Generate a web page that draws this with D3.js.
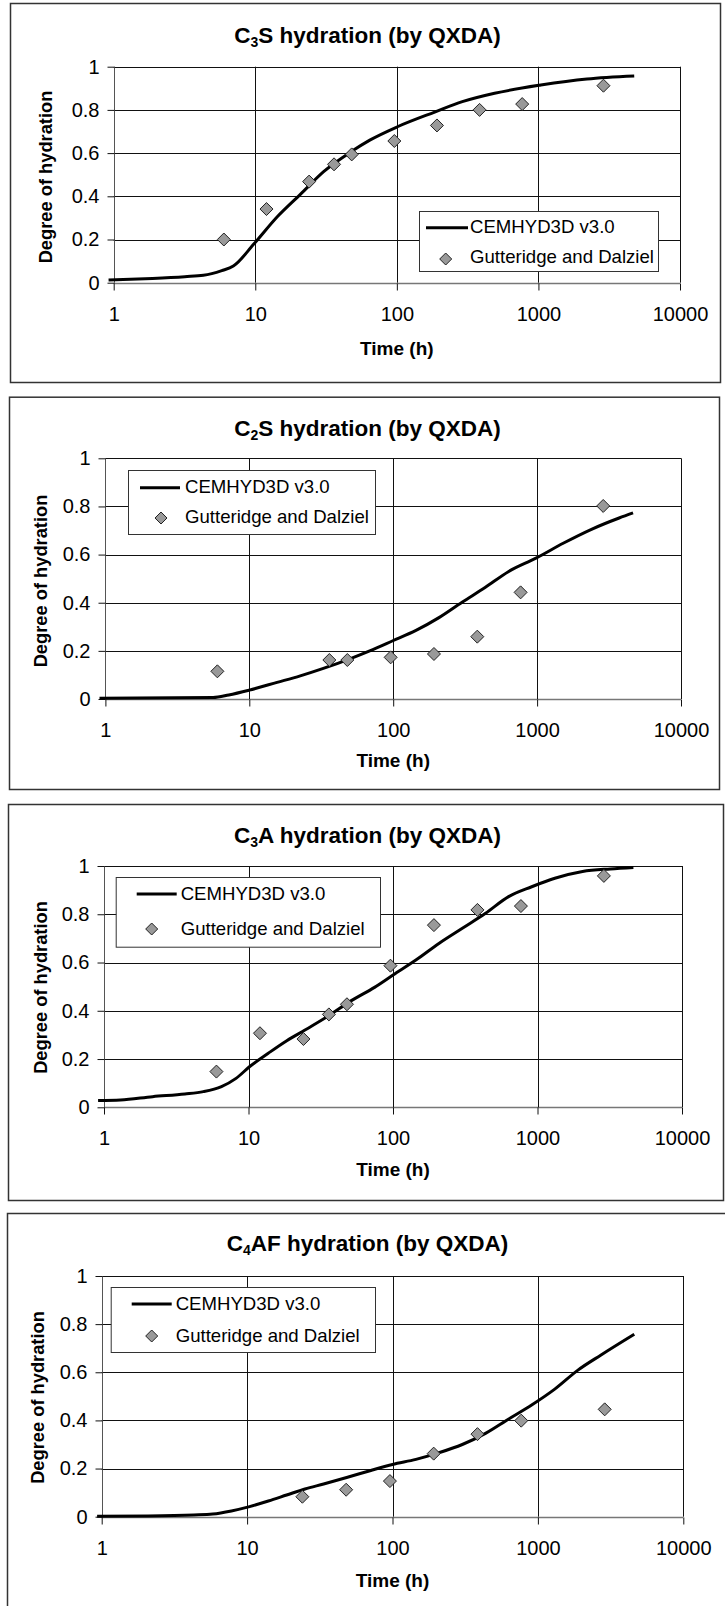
<!DOCTYPE html>
<html><head><meta charset="utf-8">
<script src="https://cdn.jsdelivr.net/npm/d3@7"></script>
<style>
html,body{margin:0;padding:0;background:#fff;}
svg{display:block;font-family:"Liberation Sans",Arial,sans-serif;}
</style></head>
<body>
<svg id="chart" width="725" height="1606"></svg>
<script>
// ---------- data ----------
const timeTicks = [1, 10, 100, 1000, 10000];
const yTicks = [0, 0.2, 0.4, 0.6, 0.8, 1];
const seriesNames = ["CEMHYD3D v3.0", "Gutteridge and Dalziel"];
const titles = [["C", "3", "S hydration (by QXDA)"], ["C", "2", "S hydration (by QXDA)"], ["C", "3", "A hydration (by QXDA)"], ["C", "4", "AF hydration (by QXDA)"]];
const xLabel = "Time (h)";
const yLabel = "Degree of hydration";

// C3S
const c3sModelT = [0.92, 1.88, 3.18, 4.3, 5.8, 7.0, 9.8, 14.3, 20.9, 30.4, 47.7, 64.4, 101, 185, 290, 490, 1040, 2200, 4750];
const c3sModelY = [0.012, 0.02, 0.028, 0.034, 0.056, 0.077, 0.18, 0.305, 0.41, 0.514, 0.607, 0.66, 0.722, 0.79, 0.838, 0.877, 0.915, 0.943, 0.957];
const c3sExpT = [6, 12, 24, 36, 48, 96, 192, 384, 768, 2880];
const c3sExpY = [0.20, 0.341, 0.468, 0.548, 0.594, 0.656, 0.728, 0.80, 0.827, 0.912];
// C2S
const c2sModelT = [0.91, 5.6, 7.2, 10, 15.6, 22.6, 32.7, 51, 68.7, 99.3, 144, 208, 301, 435, 631, 982, 1530, 2387, 3717, 4642];
const c2sModelY = [0.003, 0.006, 0.017, 0.037, 0.069, 0.096, 0.127, 0.169, 0.2, 0.242, 0.285, 0.338, 0.402, 0.463, 0.529, 0.585, 0.648, 0.705, 0.752, 0.773];
const c2sExpT = [6, 36, 48, 96, 192, 384, 768, 2880];
const c2sExpY = [0.115, 0.162, 0.162, 0.173, 0.187, 0.259, 0.443, 0.802];
// C3A
const c3aModelT = [0.91, 1.3, 2.17, 3.63, 4.87, 6.5, 8.2, 10.2, 13.7, 18.4, 24.6, 35.6, 51.5, 74.5, 100, 144, 209, 302, 437, 631, 912, 1318, 2050, 3190, 4610];
const c3aModelY = [0.028, 0.030, 0.044, 0.055, 0.065, 0.086, 0.12, 0.169, 0.224, 0.276, 0.32, 0.378, 0.442, 0.497, 0.548, 0.61, 0.68, 0.742, 0.804, 0.873, 0.914, 0.949, 0.977, 0.988, 0.994];
const c3aExpT = [6, 12, 24, 36, 48, 96, 192, 384, 768, 2880];
const c3aExpY = [0.148, 0.307, 0.283, 0.385, 0.427, 0.587, 0.755, 0.818, 0.834, 0.959];
// C4AF
const c4afModelT = [0.93, 2.08, 4.3, 5.8, 7.8, 10.4, 14, 18.7, 25, 33.6, 48.4, 70, 100, 145, 209, 302, 436, 630, 906, 1306, 1885, 2718, 4600];
const c4afModelY = [0.002, 0.003, 0.007, 0.011, 0.024, 0.042, 0.065, 0.09, 0.115, 0.136, 0.163, 0.191, 0.217, 0.238, 0.266, 0.30, 0.346, 0.406, 0.464, 0.53, 0.609, 0.672, 0.758];
const c4afExpT = [24, 48, 96, 192, 384, 768, 2880];
const c4afExpY = [0.083, 0.112, 0.148, 0.262, 0.343, 0.399, 0.446];

// ---------- layout (per panel) ----------
const panels = [
  {title: titles[0], mT: c3sModelT, mY: c3sModelY, eT: c3sExpT, eY: c3sExpY,
   box: [10, 3, 720, 382], plot: [113.7, 66.7, 680, 282.7], titleY: 42.5, xLabY: 355, yLab: [46, 177],
   leg: [419, 211, 658, 271], legLine: [7, 49, 16.7], legDia: [26.7, 48], legText: 51, legBase: [21.5, 52]},
  {title: titles[1], mT: c2sModelT, mY: c2sModelY, eT: c2sExpT, eY: c2sExpY,
   box: [9, 396.7, 719, 789], plot: [105.4, 458.3, 681, 699], titleY: 436, xLabY: 767, yLab: [40.7, 581],
   leg: [128, 470, 375, 534], legLine: [12, 52, 17.7], legDia: [33, 48], legText: 57, legBase: [22.5, 53]},
  {title: titles[2], mT: c3aModelT, mY: c3aModelY, eT: c3aExpT, eY: c3aExpY,
   box: [8, 804, 723, 1200], plot: [104, 866, 682, 1107.3], titleY: 842.5, xLabY: 1176, yLab: [40.7, 987.5],
   leg: [115.7, 877, 380, 946.7], legLine: [21, 61, 17], legDia: [36, 52], legText: 65, legBase: [22.5, 57.5]},
  {title: titles[3], mT: c4afModelT, mY: c4afModelY, eT: c4afExpT, eY: c4afExpY,
   box: [7, 1213, 735, 1620], plot: [101.7, 1276, 683.3, 1516.7], titleY: 1251, xLabY: 1587, yLab: [38.3, 1397.5],
   leg: [110.7, 1287, 375, 1352], legLine: [21, 61, 17], legDia: [41, 49], legText: 65, legBase: [22.5, 54.5]}
];

const svg = d3.select("#chart");
svg.append("rect").attr("width", 725).attr("height", 1606).attr("fill", "#fff");

function diamond(sel, x, y, r) {
  sel.append("path")
    .attr("d", `M${x},${y - r}L${x + r},${y}L${x},${y + r}L${x - r},${y}Z`)
    .attr("fill", "#999").attr("stroke", "#222").attr("stroke-width", 1);
}

panels.forEach(p => {
  const g = svg.append("g");
  // outer box
  g.append("rect").attr("x", p.box[0] + 0.5).attr("y", p.box[1] + 0.5)
    .attr("width", p.box[2] - p.box[0]).attr("height", p.box[3] - p.box[1])
    .attr("fill", "#fff").attr("stroke", "#333").attr("stroke-width", 1.5);

  const x = d3.scaleLog().domain([1, 10000]).range([p.plot[0], p.plot[2]]);
  const y = d3.scaleLinear().domain([0, 1]).range([p.plot[3], p.plot[1]]);

  // title
  const t = g.append("text").attr("x", 367.5).attr("y", p.titleY)
    .attr("text-anchor", "middle").attr("font-weight", "bold").attr("font-size", 22.5).attr("fill", "#000");
  t.append("tspan").text(p.title[0]);
  t.append("tspan").attr("font-size", 14).attr("dy", 4).text(p.title[1]);
  t.append("tspan").attr("dy", -4).text(p.title[2]);

  // gridlines
  g.append("g").selectAll("line").data(yTicks).join("line")
    .attr("x1", p.plot[0]).attr("x2", p.plot[2])
    .attr("y1", d => Math.round(y(d)) + 0.5).attr("y2", d => Math.round(y(d)) + 0.5)
    .attr("stroke", d => d === 0 ? "#777" : "#111").attr("stroke-width", d => d === 0 ? 1.6 : 1);
  g.append("g").selectAll("line").data(timeTicks).join("line")
    .attr("y1", p.plot[1]).attr("y2", p.plot[3])
    .attr("x1", d => Math.round(x(d)) + 0.5).attr("x2", d => Math.round(x(d)) + 0.5)
    .attr("stroke", d => d === 1 ? "#555" : "#111").attr("stroke-width", 1);

  // axes
  const ya = g.append("g").attr("transform", `translate(${Math.round(p.plot[0]) + 0.5},0)`)
    .call(d3.axisLeft(y).tickValues(yTicks).tickSize(7).tickPadding(8).tickFormat(d => String(d)));
  const xa = g.append("g").attr("transform", `translate(0,${Math.round(p.plot[3]) + 0.5})`)
    .call(d3.axisBottom(x).tickValues(timeTicks).tickSize(7).tickPadding(16).tickFormat(d3.format("d")));
  [ya, xa].forEach(a => {
    a.select(".domain").remove();
    a.selectAll(".tick line").attr("stroke", "#111");
    a.selectAll("text").attr("font-size", 20).attr("fill", "#000")
      .attr("font-family", "'Liberation Sans',Arial,sans-serif");
  });

  // axis labels
  g.append("text").attr("x", (p.plot[0] + p.plot[2]) / 2).attr("y", p.xLabY)
    .attr("text-anchor", "middle").attr("font-weight", "bold").attr("font-size", 19).text(xLabel);
  g.append("text").attr("transform", `translate(${p.yLab[0] + 6},${p.yLab[1]}) rotate(-90)`)
    .attr("text-anchor", "middle").attr("font-weight", "bold").attr("font-size", 18.3).text(yLabel);

  // model curve
  const line = d3.line().x(d => x(d[0])).y(d => y(d[1])).curve(d3.curveMonotoneX);
  g.append("path").datum(p.mT.map((tt, i) => [tt, p.mY[i]]))
    .attr("d", line).attr("fill", "none").attr("stroke", "#000").attr("stroke-width", 3)
    .attr("stroke-linejoin", "round");

  // experimental points
  const pts = g.append("g");
  p.eT.forEach((tt, i) => diamond(pts, x(tt), y(p.eY[i]), 6.5));

  // legend
  const L = p.leg;
  g.append("rect").attr("x", L[0] + 0.5).attr("y", L[1] + 0.5).attr("width", L[2] - L[0]).attr("height", L[3] - L[1])
    .attr("fill", "#fff").attr("stroke", "#333").attr("stroke-width", 1);
  g.append("line").attr("x1", L[0] + p.legLine[0]).attr("x2", L[0] + p.legLine[1])
    .attr("y1", L[1] + p.legLine[2]).attr("y2", L[1] + p.legLine[2])
    .attr("stroke", "#000").attr("stroke-width", 3);
  diamond(g, L[0] + p.legDia[0], L[1] + p.legDia[1], 6);
  g.append("text").attr("x", L[0] + p.legText).attr("y", L[1] + p.legBase[0]).attr("font-size", 18.6).text(seriesNames[0]);
  g.append("text").attr("x", L[0] + p.legText).attr("y", L[1] + p.legBase[1]).attr("font-size", 18.6).text(seriesNames[1]);
});
</script>
</body></html>
